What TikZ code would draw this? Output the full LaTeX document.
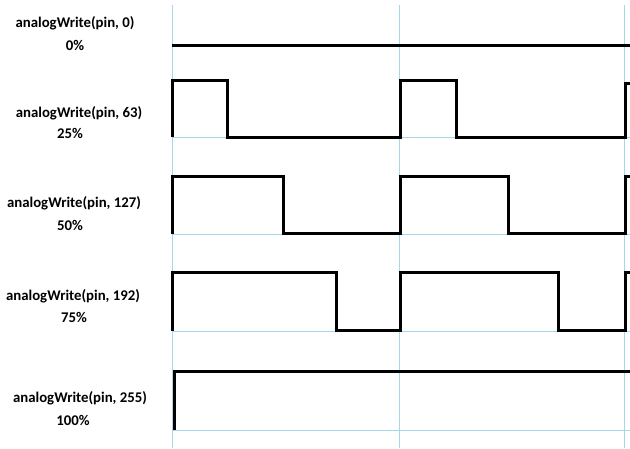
\documentclass[tikz,border=0pt]{standalone}
\usepackage{fontspec}
\setmainfont{Carlito}
\definecolor{gridblue}{RGB}{165,215,235}
\tikzset{wave/.style={line width=3pt,line join=miter},grid/.style={gridblue,line width=0.8pt},lbl/.style={font=\bfseries\fontsize{14.8}{17}\selectfont,inner sep=0pt}}
\begin{document}
\begin{tikzpicture}[x=1pt,y=-1pt]
\useasboundingbox(0,0)rectangle(630,448);
\fill[white](0,0)rectangle(630,448);
\draw[grid](172,5)--(172,448);
\draw[grid](399,5)--(399,448);
\draw[grid](624,5)--(624,448);
\draw[grid](172,137)--(630,137);
\draw[grid](172,234)--(630,234);
\draw[grid](172,331)--(630,331);
\draw[grid](172,430)--(630,430);
\draw[wave](172,45)--(630,45);
\draw[wave](172,137)--(172,80)--(227,80)--(227,137)--(400,137)--(400,80)--(456,80)--(456,137)--(625,137)--(625,83)--(630,83);
\draw[wave](172,234)--(172,176)--(283,176)--(283,233)--(400,233)--(400,176)--(508,176)--(508,233)--(625,233)--(625,176)--(630,176);
\draw[wave](172,331)--(172,272)--(336,272)--(336,330)--(400,330)--(400,272)--(558,272)--(558,330)--(625,330)--(625,272)--(630,272);
\draw[wave](174,430)--(174,371)--(630,371);
\node[lbl](w0)at(75,23){analogWrite(pin, 0)};
\node[lbl](p0)at(75,45){0\%};
\node[lbl](w63)at(79,113){analogWrite(pin, 63)};
\node[lbl](p63)at(70,133){25\%};
\node[lbl](w127)at(74,203){analogWrite(pin, 127)};
\node[lbl](p127)at(70,225){50\%};
\node[lbl](w192)at(73,296){analogWrite(pin, 192)};
\node[lbl](p192)at(74,317){75\%};
\node[lbl](w255)at(80,398){analogWrite(pin, 255)};
\node[lbl](p255)at(73,420){100\%};
\end{tikzpicture}
\end{document}
